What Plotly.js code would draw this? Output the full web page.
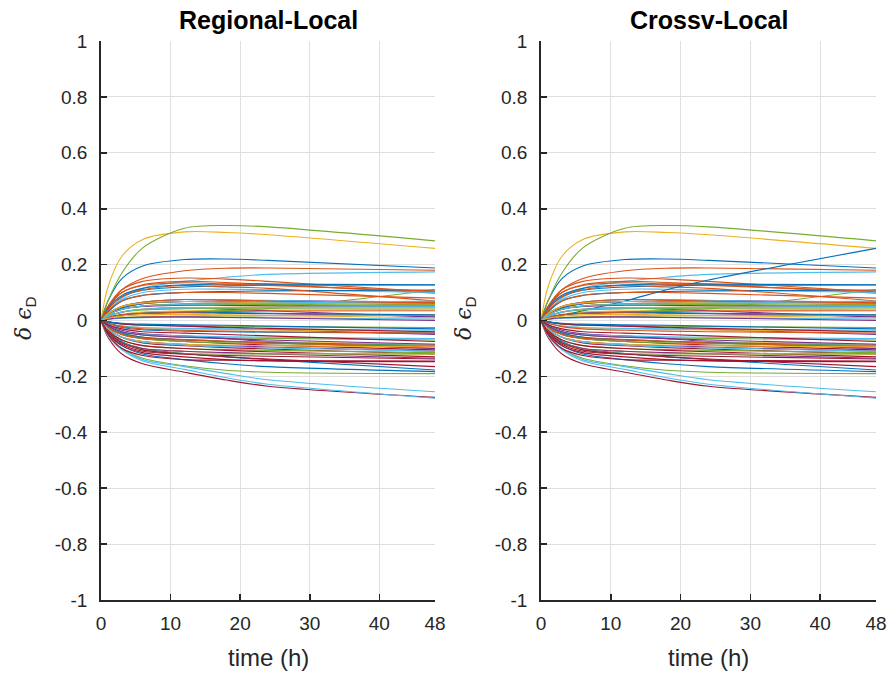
<!DOCTYPE html>
<html>
<head>
<meta charset="utf-8">
<script src="https://cdn.plot.ly/plotly-3.0.1.min.js"></script>
<style>html,body{margin:0;padding:0;background:#fff;}#chart{width:890px;height:673px;}</style>
</head>
<body>
<div id="chart"></div>
<script>
// Sample times (h)
const times = [0, 1, 3, 6, 12, 18, 24, 48];

// Regional-Local series (value of delta epsilon_D at each time)
const regionalSeries = [
  [0, .07, .15, .195, .218, .22, .215, .188],
  [0, .05, .11, .15, .178, .187, .188, .18],
  [0, .12, .23, .29, .317, .315, .307, .258],
  [0, .02, .045, .06, .068, .066, .064, .058],
  [0, .07, .17, .26, .33, .34, .335, .285],
  [0, .03, .08, .115, .14, .155, .165, .174],
  [0, -.06, -.12, -.155, -.185, -.213, -.235, -.275],

  [0, .04, .085, .108, .12, .124, .126, .127],
  [0, .05, .11, .14, .152, .148, .14, .102],
  [0, .01, .022, .03, .034, .036, .037, .04],
  [0, .015, .03, .04, .045, .04, .035, .012],
  [0, -.05, -.1, -.135, -.162, -.178, -.185, -.19],
  [0, -.05, -.1, -.14, -.165, -.19, -.212, -.255],
  [0, -.04, -.085, -.11, -.12, -.125, -.128, -.138],

  [0, -.045, -.09, -.12, -.14, -.155, -.165, -.183],
  [0, .045, .1, .128, .14, .136, .13, .098],
  [0, .02, .04, .052, .058, .057, .056, .05],
  [0, -.005, -.012, -.017, -.02, -.026, -.032, -.05],
  [0, .01, .02, .026, .03, .036, .042, .11],
  [0, .035, .075, .1, .112, .112, .11, .1],
  [0, -.03, -.06, -.08, -.09, -.097, -.102, -.12],

  [0, .03, .07, .09, .1, .104, .106, .109],
  [0, .04, .085, .11, .125, .12, .115, .07],
  [0, -.01, -.02, -.026, -.03, -.032, -.034, -.04],
  [0, .025, .05, .065, .075, .073, .071, .066],
  [0, -.02, -.04, -.052, -.06, -.062, -.064, -.07],
  [0, -.055, -.105, -.145, -.175, -.205, -.228, -.278],
  [0, -.02, -.045, -.06, -.068, -.074, -.079, -.1],

  [0, -.035, -.075, -.1, -.118, -.13, -.14, -.177],
  [0, .035, .07, .09, .1, .1, .097, .08],
  [0, .015, .03, .04, .045, .047, .049, .055],
  [0, -.015, -.035, -.048, -.055, -.065, -.075, -.1],
  [0, .005, .01, .013, .015, .016, .017, .02],
  [0, .025, .05, .065, .075, .074, .072, .06],
  [0, -.045, -.09, -.115, -.13, -.14, -.145, -.147],

  [0, .02, .045, .06, .068, .067, .066, .062],
  [0, .025, .05, .065, .075, .073, .07, .055],
  [0, -.02, -.045, -.06, -.07, -.074, -.077, -.085],
  [0, .01, .02, .025, .028, .026, .024, .015],
  [0, -.035, -.07, -.09, -.1, -.104, -.107, -.115],
  [0, -.01, -.02, -.025, -.028, -.03, -.031, -.035],
  [0, -.035, -.07, -.09, -.1, -.107, -.112, -.13],

  [0, -.01, -.025, -.033, -.038, -.04, -.042, -.045],
  [0, .02, .04, .052, .06, .061, .062, .065],
  [0, .005, .01, .013, .015, .017, .018, .02],
  [0, -.03, -.06, -.075, -.085, -.09, -.095, -.11],
  [0, .015, .03, .038, .042, .043, .044, .045],
  [0, .005, .008, .01, .012, .011, .01, .005],
  [0, -.025, -.05, -.065, -.075, -.082, -.088, -.105],

  [0, -.02, -.045, -.06, -.07, -.075, -.079, -.09],
  [0, -.01, -.022, -.03, -.035, -.038, -.04, -.045],
  [0, .025, .05, .062, .068, .066, .064, .058],
  [0, .005, .01, .012, .013, .011, .009, .0],
  [0, -.025, -.05, -.065, -.075, -.08, -.083, -.09],
  [0, -.02, -.04, -.05, -.055, -.058, -.06, -.065],
  [0, -.015, -.03, -.04, -.045, -.05, -.055, -.075],

  [0, .01, .02, .026, .03, .028, .026, .02],
  [0, -.025, -.05, -.063, -.07, -.075, -.08, -.095],
  [0, -.03, -.06, -.075, -.085, -.088, -.09, -.095],
  [0, .02, .04, .05, .055, .054, .053, .05],
  [0, -.005, -.012, -.016, -.018, -.02, -.022, -.025],
  [0, -.03, -.06, -.078, -.088, -.094, -.098, -.11],
  [0, -.005, -.012, -.016, -.02, -.024, -.028, -.04],

  [0, -.005, -.01, -.013, -.015, -.017, -.02, -.03],
  [0, .01, .02, .026, .03, .032, .034, .035],
  [0, -.04, -.08, -.1, -.11, -.115, -.118, -.12],
  [0, -.04, -.08, -.1, -.11, -.115, -.12, -.135],
  [0, .02, .04, .052, .058, .058, .057, .055],
  [0, .015, .03, .04, .045, .046, .047, .05],
  [0, -.05, -.1, -.125, -.14, -.142, -.143, -.145],

  [0, .045, .09, .115, .128, .13, .13, .128],
  [0, .05, .1, .125, .135, .13, .125, .105],
  [0, .008, .015, .02, .022, .02, .018, .01],
  [0, -.02, -.04, -.052, -.06, -.065, -.07, -.085],
  [0, -.04, -.08, -.105, -.118, -.12, -.12, -.12],
  [0, .02, .04, .052, .058, .06, .062, .07],
  [0, -.04, -.08, -.105, -.12, -.13, -.138, -.165]
];

// Crossv-Local: same as Regional-Local except one series
const crossvChangedIndex = 42;
const crossvChangedSeries = [0, .006, .018, .035, .07, .11, .145, .258];
const crossvSeries = regionalSeries.map((s, i) => i === crossvChangedIndex ? crossvChangedSeries : s);

const panelTitles = ['Regional-Local', 'Crossv-Local'];
const xTickVals = [0, 10, 20, 30, 40, 48];
const xTickText = ['0', '10', '20', '30', '40', '48'];
const yTickVals = [-1, -0.8, -0.6, -0.4, -0.2, 0, 0.2, 0.4, 0.6, 0.8, 1];
const yTickText = ['-1', '-0.8', '-0.6', '-0.4', '-0.2', '0', '0.2', '0.4', '0.6', '0.8', '1'];

const colorOrder = ['#0072BD', '#D95319', '#EDB120', '#7E2F8E', '#77AC30', '#4DBEEE', '#A2142F'];

const traces = [];
[regionalSeries, crossvSeries].forEach((set, p) => {
  set.forEach((s, i) => {
    traces.push({
      x: times, y: s, type: 'scatter', mode: 'lines',
      line: {color: colorOrder[i % 7], width: 1.1, shape: 'spline', smoothing: 0.9},
      xaxis: p === 0 ? 'x' : 'x2', yaxis: p === 0 ? 'y' : 'y2',
      showlegend: false, hoverinfo: 'skip'
    });
  });
});

const W = 890, H = 673;
const fontFam = 'Liberation Sans, Arial, sans-serif';
const axCol = '#262626';
const gridCol = '#dfdfdf';
function xax(dom, anchor) {
  return {
    domain: dom, anchor: anchor, range: [0, 48], tickvals: xTickVals, ticktext: xTickText,
    ticks: 'inside', ticklen: 6, tickwidth: 1.6, tickcolor: axCol,
    showline: true, linecolor: axCol, linewidth: 1.8,
    showgrid: true, gridcolor: gridCol, gridwidth: 1, zeroline: false,
    tickfont: {family: fontFam, size: 19, color: axCol}, ticklabelstandoff: 5,
    automargin: false, fixedrange: true
  };
}
function yax(anchor) {
  return {
    domain: [(H - 600) / H, (H - 41) / H], anchor: anchor, range: [-1, 1],
    tickvals: yTickVals, ticktext: yTickText,
    ticks: 'inside', ticklen: 6, tickwidth: 1.6, tickcolor: axCol,
    showline: true, linecolor: axCol, linewidth: 1.8,
    showgrid: true, gridcolor: gridCol, gridwidth: 1, zeroline: false,
    tickfont: {family: fontFam, size: 19, color: axCol}, ticklabelstandoff: 8,
    automargin: false, fixedrange: true
  };
}

const leftDom = [101 / W, 435 / W];
const rightDom = [541 / W, 876 / W];
const annotations = [];
[leftDom, rightDom].forEach((d, p) => {
  const cx = (d[0] + d[1]) / 2;
  annotations.push({
    xref: 'paper', yref: 'paper', x: cx, y: (H - 20) / H, xanchor: 'center', yanchor: 'middle',
    text: '<b>' + panelTitles[p] + '</b>', showarrow: false,
    font: {family: fontFam, size: 25, color: '#000'}
  });
  annotations.push({
    xref: 'paper', yref: 'paper', x: cx, y: (H - 657) / H, xanchor: 'center', yanchor: 'middle',
    text: 'time (h)', showarrow: false,
    font: {family: fontFam, size: 24, color: axCol}
  });
  annotations.push({
    xref: 'paper', yref: 'paper', x: (d[0] * W - 76) / W, y: (H - 318) / H, xanchor: 'center', yanchor: 'middle',
    text: '<span style="font-family:DejaVu Serif"><i>δ ϵ</i></span><sub>D</sub>', showarrow: false, textangle: -90,
    font: {family: fontFam, size: 22, color: axCol}
  });
});

const layout = {
  width: W, height: H,
  margin: {l: 0, r: 0, t: 0, b: 0},
  paper_bgcolor: '#fff', plot_bgcolor: '#fff',
  showlegend: false,
  xaxis: xax(leftDom, 'y'),
  yaxis: yax('x'),
  xaxis2: xax(rightDom, 'y2'),
  yaxis2: yax('x2'),
  annotations: annotations
};

Plotly.newPlot('chart', traces, layout, {displayModeBar: false, staticPlot: true});
</script>
</body>
</html>
